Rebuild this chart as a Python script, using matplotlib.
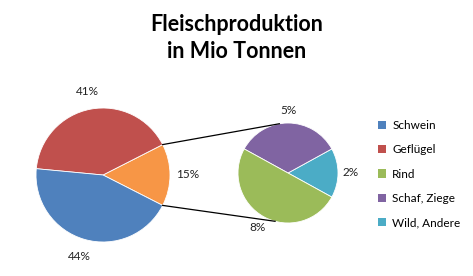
import numpy as np
import matplotlib
matplotlib.use("Agg")
import matplotlib.pyplot as plt

plt.rcParams['font.family'] = ['Lato', 'DejaVu Sans']

# main pie: Schwein, Geflügel, rest (= secondary pie)
main_labels = ["Schwein", "Geflügel", "Rest"]
main_values = [44, 41, 15]
main_colors = ["#4F81BD", "#C0504D", "#F79646"]

# secondary pie (split of the rest), drawn ccw from the right
sub_labels = ["Wild, Andere", "Schaf, Ziege", "Rind"]
sub_values = [2.4, 5.1, 7.5]
sub_colors = ["#4BACC6", "#8064A2", "#9BBB59"]

legend_order = ["Schwein", "Geflügel", "Rind", "Schaf, Ziege", "Wild, Andere"]

W, H = 473, 276
fig = plt.figure(figsize=(W / 100, H / 100), dpi=100)
ax = fig.add_axes([0, 0, 1, 1])

main_c, main_r = (103, 101), 67
sub_c, sub_r = (288, 103), 50

rest_ang = 360 * main_values[2] / sum(main_values)
main_w, main_t, main_p = ax.pie(
    [main_values[2], main_values[1], main_values[0]],
    colors=[main_colors[2], main_colors[1], main_colors[0]],
    center=main_c, radius=main_r, startangle=-rest_ang / 2,
    autopct=lambda p: "%.0f%%" % p, pctdistance=1.27, labels=None,
    wedgeprops=dict(linewidth=0.6, edgecolor="white"),
    textprops=dict(fontsize=8.5, color="#222222"), frame=True)

sub_ang = 360 * sub_values[0] / sum(sub_values)
sub_w, sub_t, sub_p = ax.pie(
    sub_values, colors=sub_colors,
    center=sub_c, radius=sub_r, startangle=-sub_ang / 2,
    autopct=lambda p: "%.0f%%" % (p * main_values[2] / 100),
    pctdistance=1.25,
    wedgeprops=dict(linewidth=0.6, edgecolor="white"),
    textprops=dict(fontsize=8.5, color="#222222"), frame=True)
ax.set_xlim(0, W)
ax.set_ylim(0, H)
ax.set_aspect('equal')
ax.axis('off')

# connector lines
w = main_w[0]
for a_main, a_sub in [(w.theta2, 100), (w.theta1, 255)]:
    x0 = main_c[0] + main_r * np.cos(np.radians(a_main))
    y0 = main_c[1] + main_r * np.sin(np.radians(a_main))
    x1 = sub_c[0] + sub_r * np.cos(np.radians(a_sub))
    y1 = sub_c[1] + sub_r * np.sin(np.radians(a_sub))
    ax.plot([x0, x1], [y0, y1], color="black", lw=0.9)

ax.text(W / 2, H - 38, "Fleischproduktion\nin Mio Tonnen", ha="center",
        va="center", fontsize=15.5, fontweight="bold", linespacing=1.35)

handles = {l: wd for l, wd in zip(["Rest", "Geflügel", "Schwein"], main_w)}
handles.update({l: wd for l, wd in zip(sub_labels, sub_w)})
leg = fig.legend([handles[l] for l in legend_order], legend_order,
                 loc="upper left", bbox_to_anchor=(378 / W, 1 - 120 / H),
                 frameon=False, fontsize=8.5, handlelength=0.7,
                 handleheight=0.7, handletextpad=0.5, labelspacing=1.13,
                 borderpad=0, borderaxespad=0)
for h in leg.legend_handles:
    h.set_edgecolor("none")

fig.savefig("out.png", dpi=100)
